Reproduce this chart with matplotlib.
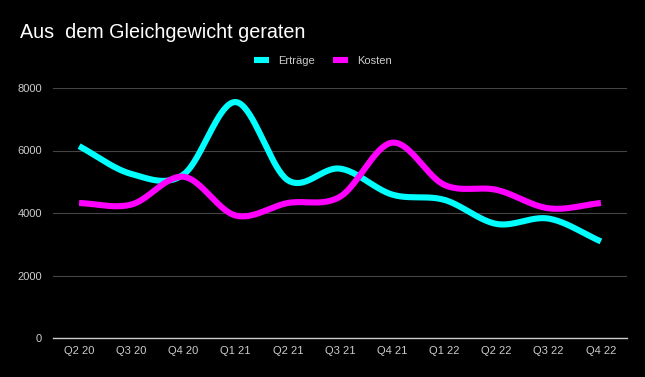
import matplotlib
matplotlib.use("Agg")
import matplotlib.pyplot as plt
import numpy as np

quarters = ["Q2 20", "Q3 20", "Q4 20", "Q1 21", "Q2 21", "Q3 21",
            "Q4 21", "Q1 22", "Q2 22", "Q3 22", "Q4 22"]
ertraege = [6140, 5250, 5230, 7550, 5050, 5420, 4590, 4420, 3650, 3820, 3090]
kosten = [4320, 4270, 5160, 3920, 4320, 4520, 6250, 4900, 4740, 4150, 4320]


def smooth(y, n=40):
    # Catmull-Rom style curve through the points, only for drawing
    y = np.asarray(y, dtype=float)
    m = len(y)
    t = np.zeros(m)
    t[1:-1] = (y[2:] - y[:-2]) / 2
    t[0] = y[1] - y[0]
    t[-1] = y[-1] - y[-2]
    xs, ys = [], []
    for i in range(m - 1):
        s = np.linspace(0, 1, n, endpoint=(i == m - 2))
        h00 = 2*s**3 - 3*s**2 + 1
        h10 = s**3 - 2*s**2 + s
        h01 = -2*s**3 + 3*s**2
        h11 = s**3 - s**2
        xs.append(i + s)
        ys.append(h00*y[i] + h10*t[i] + h01*y[i+1] + h11*t[i+1])
    return np.concatenate(xs), np.concatenate(ys)


plt.rcParams['font.family'] = ['Liberation Sans', 'DejaVu Sans']

fig = plt.figure(figsize=(6.45, 3.77), dpi=100, facecolor="black")
ax = fig.add_axes([53/645, 39/377, 574/645, 250/377], facecolor="black")

x = np.arange(len(quarters))
for vals, col, lab in [(ertraege, "#00ffff", "Erträge"), (kosten, "#ff00ff", "Kosten")]:
    sx, sy = smooth(vals)
    ax.plot(sx, sy, color=col, lw=4.4, label=lab, solid_capstyle="butt", zorder=3)

ax.set_xlim(-0.5, len(quarters) - 0.5)
ax.set_ylim(0, 8000)
ax.set_yticks([0, 2000, 4000, 6000, 8000])
ax.set_xticks(x)
ax.set_xticklabels(quarters)
ax.yaxis.grid(True, color="#444444", lw=0.8)
ax.set_axisbelow(True)
for s in ["top", "right", "left"]:
    ax.spines[s].set_visible(False)
ax.spines["bottom"].set_color("#cccccc")
ax.spines["bottom"].set_linewidth(1)
ax.tick_params(length=0, colors="#cccccc", labelsize=8, pad=6)
ax.tick_params(axis="y", pad=8)

fig.text(20/645, 1 - 33/377, "Aus  dem Gleichgewicht geraten", color="white",
         fontsize=14.2, va="center", ha="left")
leg = fig.legend(loc="center", bbox_to_anchor=(323/645, 1 - 61/377), ncol=2,
                 frameon=False, fontsize=8, handlelength=1.3, handletextpad=0.8,
                 columnspacing=1.7)
for t in leg.get_texts():
    t.set_color("#cccccc")

fig.savefig("out.png", dpi=100, facecolor="black")
